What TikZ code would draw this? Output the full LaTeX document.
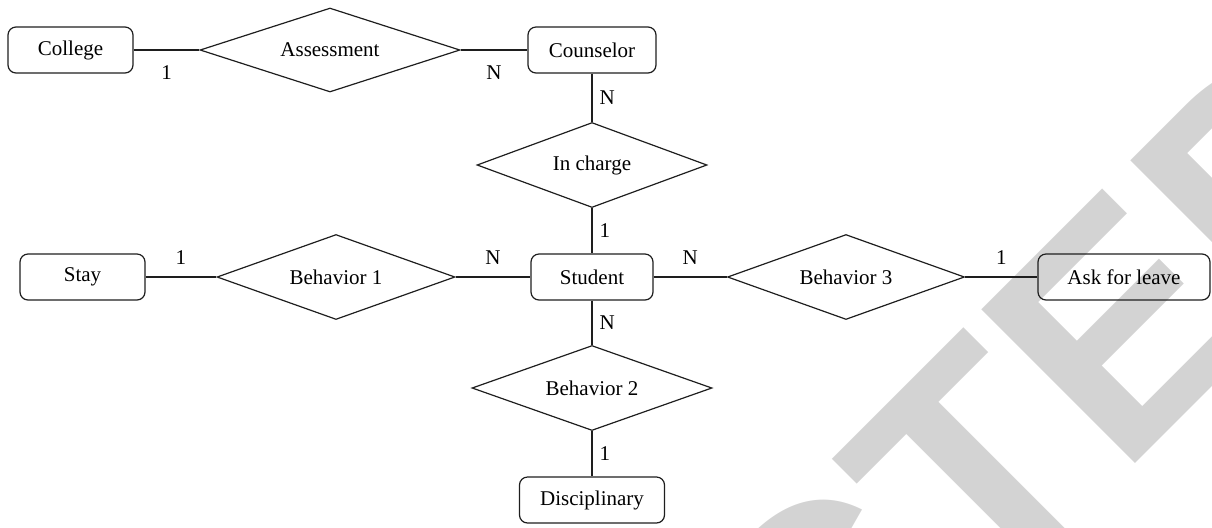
\documentclass[tikz,border=0pt]{standalone}
\usepackage{fontspec}
\setmainfont{Liberation Serif}
\newfontfamily\stampfont{Liberation Sans}
\usetikzlibrary{shapes.geometric,positioning}
\definecolor{stampgray}{HTML}{D3D3D3}
\definecolor{edgeline}{HTML}{1E1E1E}

\begin{document}
\begin{tikzpicture}[
  x=0.5pt, y=-0.5pt,
  font=\fontsize{10.5}{12}\selectfont,
  entity/.style={draw=edgeline, line width=0.6pt, rounded corners=4pt,
                 minimum height=23pt, inner sep=2pt},
  relation/.style={draw=edgeline, line width=0.6pt, diamond, aspect=2.8,
                   inner sep=0pt, minimum height=42.5pt},
  link/.style={draw=edgeline, line width=0.6pt},
  card/.style={inner sep=3.5pt},
  cbelow/.style={card, below=4pt},
  cabove/.style={card, above=2.5pt},
  cright/.style={card, right=0pt},
]
\useasboundingbox (0,0) rectangle (1212,527);

% grey stamp behind the diagram
\begin{scope}
  \clip (0,0) rectangle (1212,527);
  \node[rotate=45, anchor=base, inner sep=0pt, text=stampgray,
        font=\stampfont\bfseries\fontsize{158}{158}\selectfont] (stamp) at (742,857) {RETRACTED};
\end{scope}

% entities
\node[entity, minimum width=62.5pt] (college) at (70.5,50) {College};
\node[entity, minimum width=64pt] (counselor) at (592,50) {Counselor};
\node[entity, minimum width=62.5pt] (stay) at (82.5,277) {Stay};
\node[entity, minimum width=61pt] (student) at (592,277) {Student};
\node[entity, minimum width=86pt] (ask) at (1124,277) {Ask for leave};
\node[entity, minimum width=72.5pt] (disc) at (592,500) {Disciplinary};

% relationships
\node[relation, minimum width=130pt, minimum height=42pt] (assess) at (330,50) {Assessment};
\node[relation, minimum width=115pt] (incharge) at (592,165) {In charge};
\node[relation, minimum width=119pt] (beh1) at (336,277) {Behavior 1};
\node[relation, minimum width=118.5pt] (beh3) at (846,277) {Behavior 3};
\node[relation, minimum width=120pt] (beh2) at (592,388) {Behavior 2};

% links with cardinalities
\foreach \a/\b/\c/\p in {college/assess/1/cbelow, assess/counselor/N/cbelow,
                         counselor/incharge/N/cright, incharge/student/1/cright,
                         stay/beh1/1/cabove, beh1/student/N/cabove,
                         student/beh3/N/cabove, beh3/ask/1/cabove,
                         student/beh2/N/cright, beh2/disc/1/cright}
  \draw[link] (\a) -- node[\p] {\c} (\b);
\end{tikzpicture}
\end{document}
